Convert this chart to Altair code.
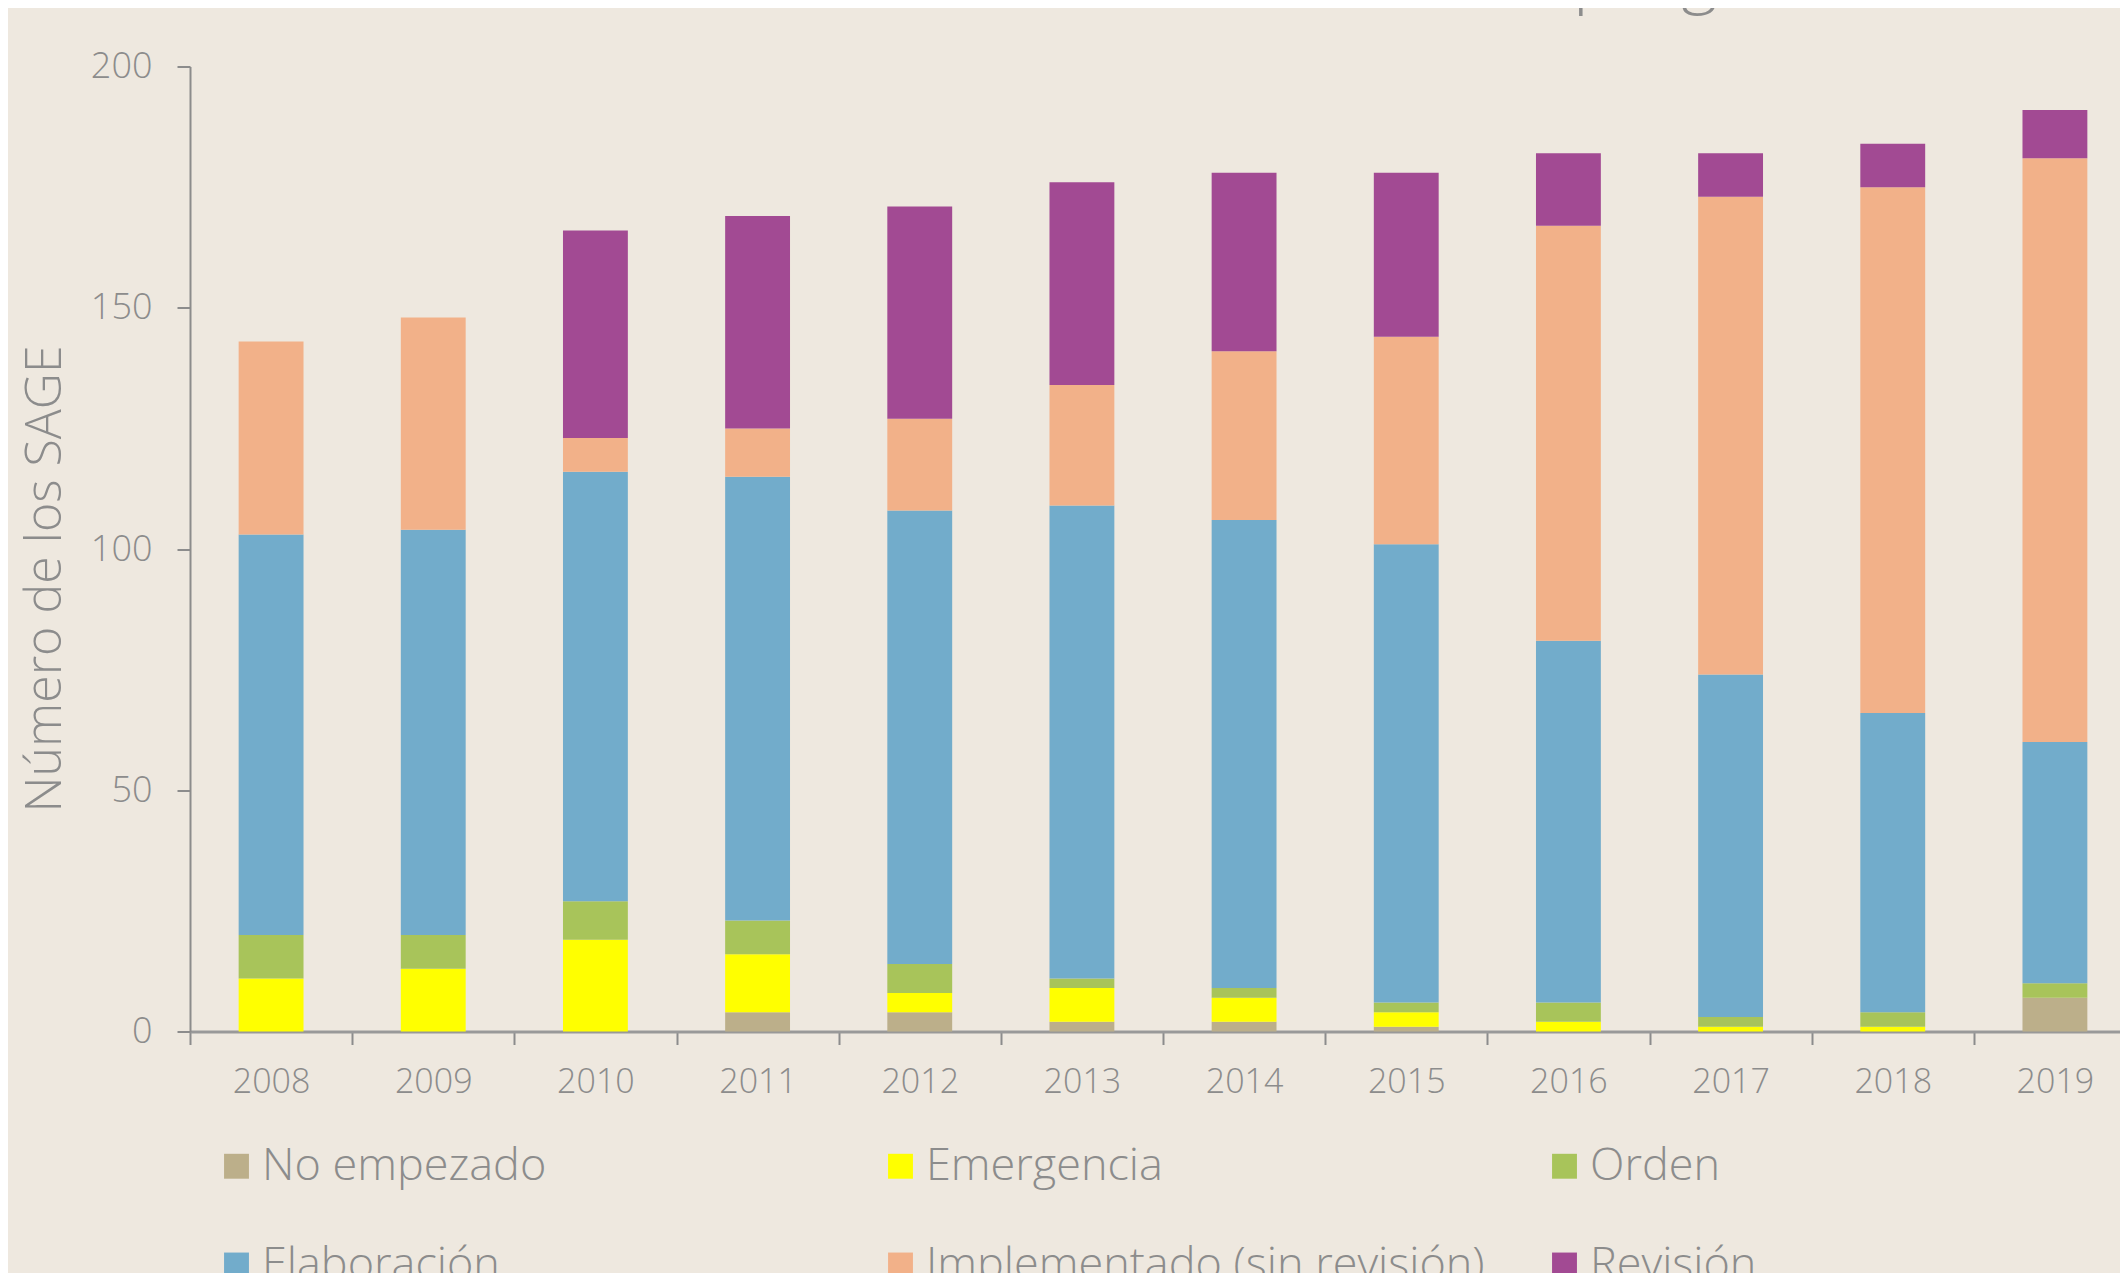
import altair as alt
import pandas as pd

TITLE = "Evolución del número de los SAGE en función del progreso realizado"
Y_TITLE = "Número de los SAGE"
YEARS = ["2008", "2009", "2010", "2011", "2012", "2013", "2014", "2015", "2016", "2017", "2018", "2019"]
SERIES = ["No empezado", "Emergencia", "Orden", "Elaboración", "Implementado (sin revisión)", "Revisión"]
COLORS = ["#BCAF8A", "#FFFF00", "#A8C45A", "#72ACCB", "#F2B189", "#A24A93"]
Y_TICKS = [0, 50, 100, 150, 200]

NO_EMPEZADO = [0, 0, 0, 4, 4, 2, 2, 1, 0, 0, 0, 7]
EMERGENCIA = [11, 13, 19, 12, 4, 7, 5, 3, 2, 1, 1, 0]
ORDEN = [9, 7, 8, 7, 6, 2, 2, 2, 4, 2, 3, 3]
ELABORACION = [83, 84, 89, 92, 94, 98, 97, 95, 75, 71, 62, 50]
IMPLEMENTADO = [40, 44, 7, 10, 19, 25, 35, 43, 86, 99, 109, 121]
REVISION = [0, 0, 43, 44, 44, 42, 37, 34, 15, 9, 9, 10]

VALUES = [NO_EMPEZADO, EMERGENCIA, ORDEN, ELABORACION, IMPLEMENTADO, REVISION]

rows = []
for si, (name, vals) in enumerate(zip(SERIES, VALUES)):
    for yr, v in zip(YEARS, vals):
        rows.append({"year": yr, "serie": name, "valor": v, "orden": si})
df = pd.DataFrame(rows)

FONT = "Open Sans"
GRAY = "#8C8C8C"
BG = "#EEE8DF"

bars = alt.Chart(df).mark_bar(width=alt.RelativeBandSize(0.4)).encode(
    x=alt.X(
        "year:N", sort=YEARS, title=None,
        scale=alt.Scale(paddingInner=0, paddingOuter=0, range=[0, 1946]),
        axis=alt.Axis(labelAngle=0, tickBand="extent", tickSize=13, labelPadding=21,
                      labelFontSize=34, labelFont=FONT, labelFontWeight=300, labelColor=GRAY,
                      domainColor="#999999", domainWidth=3, tickColor=GRAY, tickWidth=2),
    ),
    y=alt.Y(
        "valor:Q", stack="zero",
        scale=alt.Scale(domain=[0, 200], nice=False),
        axis=alt.Axis(values=Y_TICKS, title=Y_TITLE, grid=False, tickSize=13, labelPadding=25,
                      labelFontSize=36, labelFont=FONT, labelFontWeight=300, labelColor=GRAY,
                      domainColor=GRAY, domainWidth=2, tickColor=GRAY, tickWidth=2,
                      titleFont=FONT, titleFontSize=50, titleFontWeight=300, titleColor=GRAY,
                      titlePadding=20, titleY=512),
    ),
    color=alt.Color(
        "serie:N", sort=SERIES,
        scale=alt.Scale(domain=SERIES, range=COLORS),
        legend=alt.Legend(title=None, orient="none", legendX=24, legendY=1077, columns=3,
                          direction="horizontal", symbolType="square", symbolSize=620,
                          symbolStrokeWidth=0, symbolOpacity=1, labelFont=FONT, labelFontSize=45,
                          labelFontWeight=300, labelColor=GRAY, labelLimit=1000, labelOffset=3,
                          columnPadding=57, rowPadding=53, gridAlign="all"),
    ),
    order=alt.Order("orden:Q", sort="ascending"),
)

title_layer = alt.Chart(pd.DataFrame({"t": [TITLE]})).mark_text(
    align="left", baseline="alphabetic", font=FONT, fontSize=69, fontWeight=300, color=GRAY
).encode(text="t:N", x=alt.value(-156), y=alt.value(-66.5))

chart = alt.layer(bars, title_layer).properties(
    width=1930, height=965, background=BG,
    padding={"left": 182, "top": 58.5, "right": 0, "bottom": 241},
    autosize=alt.AutoSizeParams(type="none"),
).configure_view(stroke=None)

chart.save("out.html", embed_options={"renderer": "svg", "actions": False})
